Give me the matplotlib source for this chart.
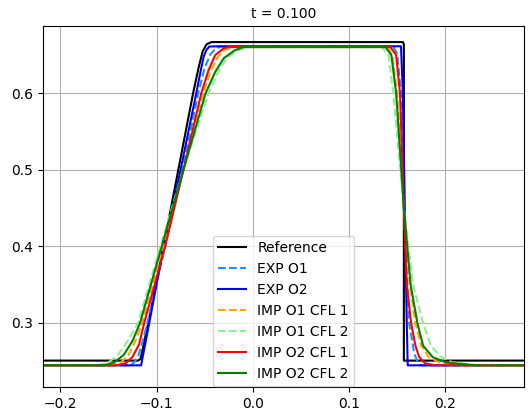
import matplotlib
matplotlib.use("Agg")
import matplotlib.pyplot as plt

# values (x, u) for each curve
ref_x = [-0.218, -0.119, -0.1165, -0.108, -0.085, -0.062, -0.056, -0.052, -0.048, -0.043, 0.156, 0.157, 0.157, 0.282]
ref_u = [0.2505, 0.2505, 0.253, 0.303, 0.45, 0.60, 0.635, 0.655, 0.664, 0.667, 0.667, 0.664, 0.2505, 0.2505]

exp1_x = [-0.218, -0.130, -0.124, -0.119, -0.1145, -0.1095, -0.091, -0.073, -0.0566, -0.050, -0.044, -0.038, -0.033, 0.146, 0.150, 0.154, 0.157, 0.1625, 0.1677, 0.171, 0.175, 0.282]
exp1_u = [0.2443, 0.2443, 0.247, 0.256, 0.275, 0.30, 0.40, 0.50, 0.60, 0.633, 0.651, 0.659, 0.661, 0.661, 0.652, 0.60, 0.45, 0.30, 0.26, 0.25, 0.2443, 0.2443]

exp2_x = [-0.218, -0.116, -0.1075, -0.0925, -0.075, -0.0587, -0.054, -0.051, -0.048, -0.045, -0.035, 0.154, 0.156, 0.158, 0.160, 0.161, 0.282]
exp2_u = [0.2443, 0.2443, 0.30, 0.40, 0.50, 0.60, 0.63, 0.648, 0.657, 0.6612, 0.6615, 0.6615, 0.60, 0.45, 0.30, 0.2443, 0.2443]

imp11_x = [-0.218, -0.147, -0.137, -0.129, -0.122, -0.1147, -0.093, -0.072, -0.0514, -0.044, -0.037, -0.030, -0.020, 0.140, 0.145, 0.150, 0.157, 0.163, 0.169, 0.175, 0.183, 0.196, 0.216, 0.282]
imp11_u = [0.2443, 0.2443, 0.248, 0.258, 0.276, 0.30, 0.40, 0.50, 0.60, 0.628, 0.646, 0.656, 0.6605, 0.6605, 0.65, 0.60, 0.45, 0.35, 0.30, 0.27, 0.255, 0.247, 0.2443, 0.2443]

imp12_x = [-0.218, -0.162, -0.150, -0.140, -0.130, -0.119, -0.096, -0.072, -0.046, -0.036, -0.027, -0.016, -0.004, 0.134, 0.141, 0.146, 0.157, 0.1665, 0.177, 0.185, 0.196, 0.208, 0.237, 0.282]
imp12_u = [0.2443, 0.2443, 0.248, 0.258, 0.276, 0.30, 0.40, 0.50, 0.60, 0.628, 0.646, 0.656, 0.6605, 0.6605, 0.65, 0.60, 0.45, 0.35, 0.30, 0.27, 0.255, 0.248, 0.2443, 0.2443]

imp21_x = [-0.218, -0.142, -0.132, -0.125, -0.118, -0.1127, -0.091, -0.072, -0.0535, -0.046, -0.039, -0.030, -0.024, 0.143, 0.149, 0.153, 0.157, 0.160, 0.1645, 0.169, 0.173, 0.179, 0.190, 0.282]
imp21_u = [0.2443, 0.2443, 0.247, 0.255, 0.272, 0.30, 0.40, 0.50, 0.60, 0.63, 0.65, 0.659, 0.6605, 0.6605, 0.65, 0.60, 0.45, 0.35, 0.30, 0.27, 0.255, 0.247, 0.2443, 0.2443]

imp22_x = [-0.218, -0.155, -0.144, -0.134, -0.125, -0.117, -0.0945, -0.072, -0.049, -0.039, -0.030, -0.019, -0.010, 0.138, 0.144, 0.149, 0.157, 0.164, 0.171, 0.177, 0.187, 0.201, 0.232, 0.282]
imp22_u = [0.2443, 0.2443, 0.248, 0.258, 0.276, 0.30, 0.40, 0.50, 0.60, 0.628, 0.646, 0.656, 0.6605, 0.6605, 0.65, 0.60, 0.45, 0.35, 0.30, 0.27, 0.255, 0.248, 0.2443, 0.2443]

labels = ['Reference', 'EXP O1', 'EXP O2', 'IMP O1 CFL 1', 'IMP O1 CFL 2', 'IMP O2 CFL 1', 'IMP O2 CFL 2']
curves = [(ref_x, ref_u), (exp1_x, exp1_u), (exp2_x, exp2_u), (imp11_x, imp11_u),
          (imp12_x, imp12_u), (imp21_x, imp21_u), (imp22_x, imp22_u)]
colors = ['k', 'dodgerblue', 'blue', 'orange', 'lightgreen', 'red', 'green']
styles = ['-', '--', '-', '--', '--', '-', '-']

fig = plt.figure(figsize=(5.3, 4.13), dpi=100)
ax = fig.add_axes([0.081, 0.063, 0.908, 0.874])
for (xs, us), lab, c, ls in zip(curves, labels, colors, styles):
    ax.plot(xs, us, color=c, linestyle=ls, linewidth=1.5, label=lab)

ax.set_xlim(-0.218, 0.282)
ax.set_ylim(0.216, 0.688)
ax.set_xticks([-0.2, -0.1, 0.0, 0.1, 0.2])
ax.set_yticks([0.3, 0.4, 0.5, 0.6])
ax.grid(True)
ax.set_title('t = 0.100', fontsize=10)
ax.legend(loc='lower center', borderaxespad=0.05)

fig.savefig('out.png', dpi=100)
